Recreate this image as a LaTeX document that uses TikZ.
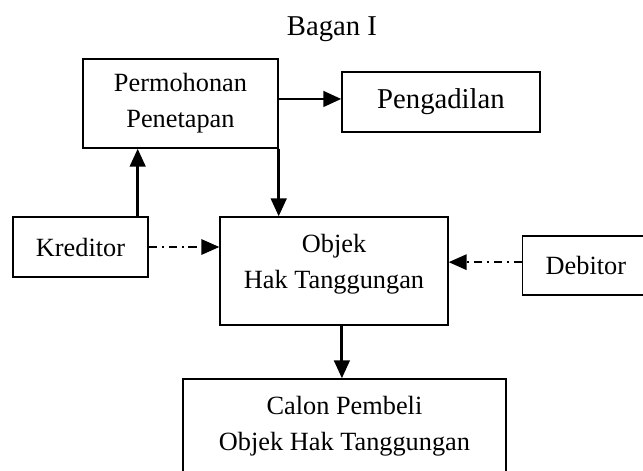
\documentclass[tikz,border=0pt]{standalone}
\usepackage{fontspec}
\setmainfont{Liberation Serif}
\usetikzlibrary{arrows.meta}
\begin{document}
\begin{tikzpicture}[x=0.418pt, y=-0.418pt,
    box/.style={rectangle, draw=black, line width=0.6pt, inner sep=0pt, align=center,
        font=\fontsize{11}{15}\selectfont},
    arr/.style={line width=1.2pt, -{Triangle[length=7.5pt, width=6.5pt]}},
    dotarr/.style={line width=0.6pt, dash pattern=on 3.5pt off 2pt on 0.8pt off 2pt,
        -{Triangle[length=7.5pt, width=6.5pt]}}]
        \useasboundingbox (0, 0) rectangle (643, 470);
        \node[anchor=base, font=\fontsize{12}{14}\selectfont] (title) at (332, 35) {Bagan I};
        \node[box, minimum width=81.5pt, minimum height=37.2pt] (perm) at (180.5, 103.5) {Permohonan\\Penetapan};
        \node[box, minimum width=82.8pt, minimum height=25.1pt, font=\fontsize{12}{14}\selectfont] (peng) at (441, 102) {Pengadilan};
        \node[box, minimum width=56.4pt, minimum height=25.1pt] (kred) at (80.5, 247) {Kreditor};
        \node[box, minimum width=95.3pt, minimum height=45.1pt, text depth=8pt] (obj) at (334, 271) {Objek\\Hak Tanggungan};
        \node[box, minimum height=24.7pt, text width=43.5pt, inner xsep=9.6pt, align=left, anchor=west] (deb) at (522, 265.5) {Debitor};
        \node[box, minimum width=135pt, minimum height=39.3pt] (calon) at (344.5, 426) {Calon Pembeli\\Objek Hak Tanggungan};
        \draw[arr] ([yshift=1.9pt]perm.east) -- ([yshift=1.9pt]perm.east -| peng.west);
        \draw[arr] (perm.south east) -- (perm.south east |- obj.north);
        \draw[arr] ([xshift=-4.6pt]kred.north east) -- ([xshift=-4.6pt]kred.north east |- perm.south);
        \draw[dotarr] (kred.east) -- (kred.east -| obj.west);
        \draw[dotarr] ([yshift=1.4pt]deb.west) -- ([yshift=1.4pt]deb.west -| obj.east);
        \draw[arr] ([xshift=3.3pt]obj.south) -- ([xshift=3.3pt]obj.south |- calon.north);
    \end{tikzpicture}
\end{document}
